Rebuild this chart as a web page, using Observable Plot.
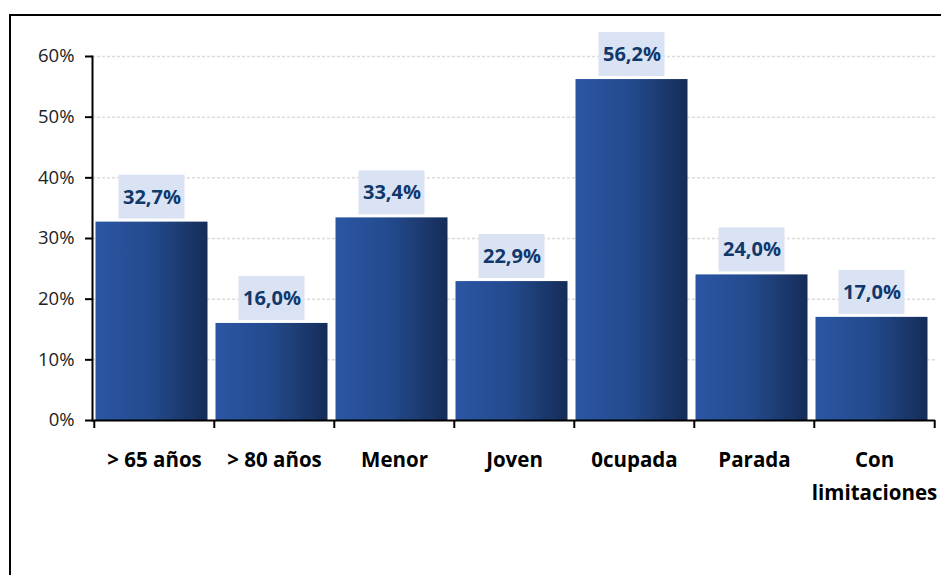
<!DOCTYPE html>
<html>
<head>
<meta charset="utf-8">
<script src="https://cdn.jsdelivr.net/npm/d3@7"></script>
<script src="https://cdn.jsdelivr.net/npm/@observablehq/plot@0.6"></script>
<style>
  html, body { margin: 0; padding: 0; background: white; overflow: hidden; width: 941px; height: 575px; }
  #frame { position: absolute; left: 9px; top: 14px; width: 3000px; height: 3000px; border: 2px solid black; box-sizing: border-box; }
  #chart { position: absolute; left: 0; top: 0; }
</style>
</head>
<body>
<div id="frame"></div>
<div id="chart"></div>
<script>
const categories = ["> 65 años", "> 80 años", "Menor", "Joven", "0cupada", "Parada", "Con\nlimitaciones"];
const values = [32.7, 16.0, 33.4, 22.9, 56.2, 24.0, 17.0];
const yTicks = [0, 10, 20, 30, 40, 50, 60];

const data = categories.map((c, i) => ({c, v: values[i]}));
const fmt = v => d3.format(".1f")(v).replace(".", ",") + "%";
const half = 843 / 7 / 2;
const font = "'Open Sans', Lato, sans-serif";

const chart = Plot.plot({
  width: 941,
  height: 575,
  marginLeft: 92,
  marginRight: 6,
  marginTop: 56,
  marginBottom: 155,
  style: {background: "transparent", overflow: "visible", fontFamily: font},
  x: {domain: categories, paddingInner: 0.07, paddingOuter: 0.035, axis: null},
  y: {domain: [0, 60], axis: null},
  marks: [
    Plot.ruleY(yTicks.filter(d => d > 0), {stroke: "#dcdcdc", strokeDasharray: "3,2", strokeWidth: 1.5}),
    Plot.barY(data, {x: "c", y: "v", dx: -2.5, fill: "url(#barGrad)"}),
    Plot.barY(data, {x: "c", y1: "v", y2: "v", dx: -2.5, fill: "#dae3f3", insetTop: -47, insetBottom: 3, insetLeft: 23, insetRight: 23}),
    Plot.text(data, {x: "c", y: "v", dx: -2.5, text: d => fmt(d.v), dy: -25, fill: "#10386b", fontWeight: "bold", fontSize: 20}),
    Plot.ruleY([0], {stroke: "black", strokeWidth: 2}),
    Plot.frame({anchor: "left", stroke: "black", strokeWidth: 2}),
    Plot.axisY({ticks: yTicks, label: null, tickFormat: d => d + "%", tickSize: 7, tickPadding: 11, strokeWidth: 2, stroke: "black", fontSize: 18.5, fill: "#222"}),
    Plot.axisX({label: null, tickSize: 8, dx: -half, strokeWidth: 2, stroke: "black", tickFormat: () => ""}),
    Plot.axisX({label: null, ticks: [categories[categories.length - 1]], tickSize: 8, dx: half, strokeWidth: 2, stroke: "black", tickFormat: () => ""}),
    Plot.axisX({label: null, tickSize: 0, tickPadding: 23, fontSize: 20.5, fontWeight: "bold", lineHeight: 1.61, fill: "black", tickFormat: d => d})
  ]
});

const svg = d3.select(chart);
const grad = svg.insert("defs", ":first-child").append("linearGradient")
  .attr("id", "barGrad").attr("x1", 0).attr("x2", 1).attr("y1", 0).attr("y2", 0);
grad.append("stop").attr("offset", "0%").attr("stop-color", "#2b56a4");
grad.append("stop").attr("offset", "50%").attr("stop-color", "#234a8c");
grad.append("stop").attr("offset", "100%").attr("stop-color", "#162c58");

document.getElementById("chart").appendChild(chart);
</script>
</body>
</html>
